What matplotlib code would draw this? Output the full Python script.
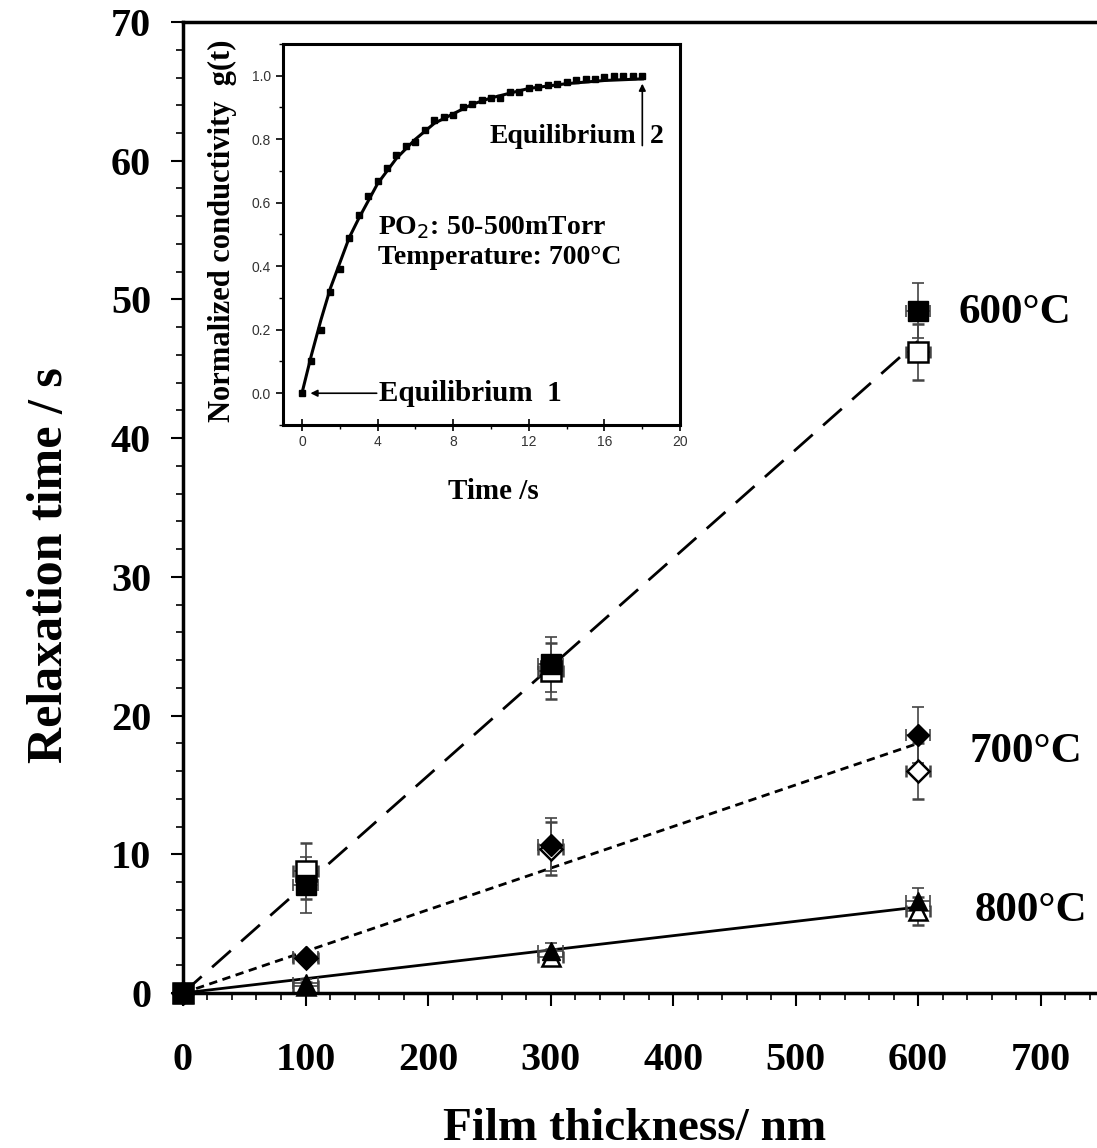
import numpy as np
import matplotlib.pyplot as plt
from matplotlib.ticker import MultipleLocator

plt.rcParams['font.family'] = ['Liberation Serif', 'DejaVu Serif']

# main data: film thickness (nm) vs relaxation time (s)
thick = [0, 100, 300, 600]
t600_fill = [0, 7.8, 23.7, 49.2]
t600_open = [0, 8.8, 23.2, 46.2]
t700_fill = [0, 2.6, 10.7, 18.6]
t700_open = [0, 2.5, 10.4, 16.0]
t800_fill = [0, 0.7, 3.0, 6.6]
t800_open = [0, 0.5, 2.6, 5.9]
yerr_600 = [0, 2.0, 2.0, 2.0]
yerr_700 = [0, 0.3, 1.9, 2.0]
yerr_800 = [0, 0.3, 0.6, 1.0]
xerr = [0, 10, 10, 10]

fit_x = [0, 600]
fit_600 = [0, 47.0]
fit_700 = [0, 18.0]
fit_800 = [0, 6.2]

# inset data
time_s = [0, 0.5, 1.0, 1.5, 2.0, 2.5, 3.0, 3.5, 4.0, 4.5, 5.0, 5.5, 6.0, 6.5,
          7.0, 7.5, 8.0, 8.5, 9.0, 9.5, 10.0, 10.5, 11.0, 11.5, 12.0, 12.5,
          13.0, 13.5, 14.0, 14.5, 15.0, 15.5, 16.0, 16.5, 17.0, 17.5, 18.0]
g_t = [0.0, 0.10, 0.20, 0.32, 0.39, 0.49, 0.56, 0.62, 0.67, 0.71, 0.75, 0.78,
       0.79, 0.83, 0.86, 0.87, 0.875, 0.90, 0.91, 0.925, 0.93, 0.93, 0.95,
       0.95, 0.96, 0.965, 0.97, 0.975, 0.98, 0.985, 0.99, 0.99, 0.995, 1.0,
       1.0, 1.0, 1.0]
fit_t = [0, 0.5, 1, 1.5, 2, 2.5, 3, 4, 5, 6, 7, 8, 9, 10, 12, 14, 16, 18]
fit_g = [0, 0.12, 0.23, 0.33, 0.41, 0.49, 0.55, 0.66, 0.74, 0.80, 0.85, 0.88,
         0.91, 0.93, 0.96, 0.975, 0.985, 0.99]

fig = plt.figure(figsize=(10.97, 11.48), dpi=100)
ax = fig.add_axes([0.1668, 0.135, 0.8332, 0.8458])

ax.plot(fit_x, fit_600, color='black', lw=2, dashes=(9, 5))
ax.plot(fit_x, fit_700, color='black', lw=2, dashes=(3, 2))
ax.plot(fit_x, fit_800, color='black', lw=2)

ebk = dict(ecolor='#444444', elinewidth=1.2, capsize=4, capthick=1.2,
           ls='none', clip_on=False)
ax.errorbar(thick, t600_open, yerr=yerr_600, xerr=xerr, marker='s', ms=14,
            mfc='white', mec='black', mew=1.8, **ebk)
ax.errorbar(thick, t600_fill, yerr=yerr_600, xerr=xerr, marker='s', ms=14,
            mfc='black', mec='black', **ebk)
ax.errorbar(thick, t700_open, yerr=yerr_700, xerr=xerr, marker='D', ms=11,
            mfc='white', mec='black', mew=1.8, **ebk)
ax.errorbar(thick, t700_fill, yerr=yerr_700, xerr=xerr, marker='D', ms=11,
            mfc='black', mec='black', **ebk)
ax.errorbar(thick, t800_open, yerr=yerr_800, xerr=xerr, marker='^', ms=13,
            mfc='white', mec='black', mew=1.8, **ebk)
ax.errorbar(thick, t800_fill, yerr=yerr_800, xerr=xerr, marker='^', ms=13,
            mfc='black', mec='black', **ebk)

ax.set_xlim(0, 746)
ax.set_ylim(0, 70)
ax.xaxis.set_major_locator(MultipleLocator(100))
ax.xaxis.set_minor_locator(MultipleLocator(20))
ax.yaxis.set_major_locator(MultipleLocator(10))
ax.yaxis.set_minor_locator(MultipleLocator(2))
ax.set_xticks([0, 100, 200, 300, 400, 500, 600, 700])
ax.set_xticklabels(['0', '100', '200', '300', '400', '500', '600', '700'])
ax.tick_params(which='major', direction='out', length=9, width=1.5,
               labelsize=29)
ax.tick_params(axis='x', which='major', pad=26)
ax.tick_params(axis='y', which='major', pad=14)
ax.tick_params(which='minor', direction='out', length=5, width=1.2)
for lab in ax.get_xticklabels() + ax.get_yticklabels():
    lab.set_fontweight('bold')
for s in ['left', 'bottom', 'top']:
    ax.spines[s].set_linewidth(2.5)
ax.spines['right'].set_visible(False)

ax.set_xlabel('Film thickness/ nm', fontsize=34, fontweight='bold')
ax.set_ylabel('Relaxation time / s', fontsize=36, fontweight='bold')
ax.xaxis.set_label_coords(0.4945, -0.118)
ax.yaxis.set_label_coords(-0.12, 0.441)

ax.text(633, 49.0, '600°C', fontsize=31, fontweight='bold', va='center')
ax.text(642, 17.4, '700°C', fontsize=31, fontweight='bold', va='center')
ax.text(646, 5.9, '800°C', fontsize=31, fontweight='bold', va='center')

# inset
ins = fig.add_axes([0.258, 0.6298, 0.362, 0.3319])
ins.plot(fit_t, fit_g, color='black', lw=2.2)
ins.plot(time_s, g_t, ls='none', marker='s', ms=4, color='black')
ins.set_xlim(-1, 20)
ins.set_ylim(-0.1, 1.1)
ins.xaxis.set_major_locator(MultipleLocator(4))
ins.xaxis.set_minor_locator(MultipleLocator(2))
ins.yaxis.set_major_locator(MultipleLocator(0.2))
ins.yaxis.set_minor_locator(MultipleLocator(0.1))
ins.tick_params(which='major', direction='out', length=5, width=1.2,
                labelsize=10, labelcolor='#333333')
ins.tick_params(axis='x', which='major', direction='inout', length=8)
ins.tick_params(which='minor', direction='out', length=3, width=1.0)
ins.set_yticks([0.0, 0.2, 0.4, 0.6, 0.8, 1.0])
ins.set_yticklabels(['0.0', '0.2', '0.4', '0.6', '0.8', '1.0'])
for lab in ins.get_xticklabels() + ins.get_yticklabels():
    lab.set_fontfamily(['Liberation Sans', 'DejaVu Sans'])
for s in ins.spines.values():
    s.set_linewidth(2.2)
ins.set_xlabel('Time /s', fontsize=21, fontweight='bold')
ins.set_ylabel('Normalized conductivity  g(t)', fontsize=22,
               fontweight='bold')
ins.xaxis.set_label_coords(0.529, -0.139)
ins.yaxis.set_label_coords(-0.117, 0.51)
ins.text(4.0, 0.475, 'PO$_2$: 50-500mTorr\nTemperature: 700°C', fontsize=20,
         fontweight='bold', va='center', linespacing=1.2)
ins.annotate('Equilibrium  1', xy=(0.45, 0.0), xytext=(4.1, 0.0),
             fontsize=21, fontweight='bold', va='center',
             arrowprops=dict(arrowstyle='-|>', color='black', lw=1.2,
                             mutation_scale=10, shrinkA=0, shrinkB=0))
ins.annotate('', xy=(18.0, 0.975), xytext=(18.0, 0.78),
             arrowprops=dict(arrowstyle='-|>', color='black', lw=1.2,
                             mutation_scale=10, shrinkA=0, shrinkB=0))
ins.text(17.7, 0.81, 'Equilibrium', fontsize=20, fontweight='bold',
         va='center', ha='right')
ins.text(18.4, 0.81, '2', fontsize=20, fontweight='bold', va='center')

fig.savefig('out.png', dpi=100)
